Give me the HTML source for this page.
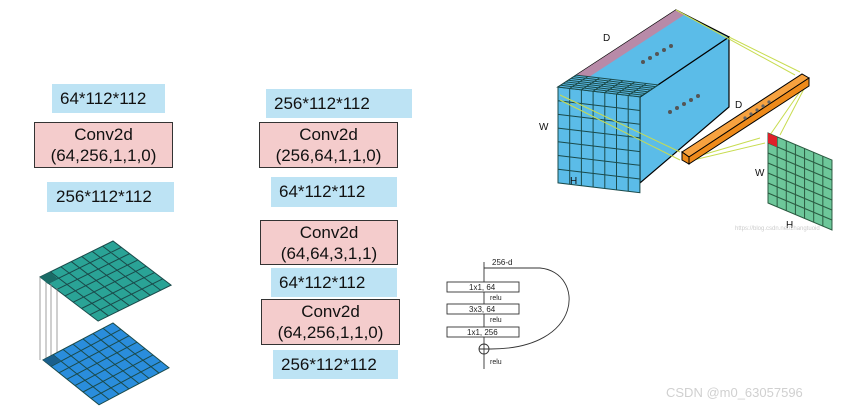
<!DOCTYPE html>
<html><head><meta charset="utf-8"><style>
body{margin:0;background:#fff;}
.b{position:absolute;background:#bde3f4;font:17px "Liberation Sans",sans-serif;color:#111;box-sizing:border-box;padding-left:8px;display:flex;align-items:center;}
.p{position:absolute;background:#f4cccc;border:1.5px solid #333;font:17px "Liberation Sans",sans-serif;color:#111;box-sizing:border-box;text-align:center;line-height:21px;display:flex;flex-direction:column;justify-content:center;}
</style></head><body>
<div style="position:relative;width:841px;height:409px;overflow:hidden">
<div class="b" style="left:52px;top:84px;width:113px;height:29px;padding-left:8px">64*112*112</div>
<div class="p" style="left:34px;top:122px;width:139px;height:46px"><div>Conv2d</div><div>(64,256,1,1,0)</div></div>
<div class="b" style="left:47px;top:182px;width:127px;height:30px;padding-left:9px">256*112*112</div>

<div class="b" style="left:266px;top:89px;width:146px;height:29px">256*112*112</div>
<div class="p" style="left:259px;top:122px;width:139px;height:46px"><div>Conv2d</div><div>(256,64,1,1,0)</div></div>
<div class="b" style="left:271px;top:177px;width:126px;height:30px">64*112*112</div>
<div class="p" style="left:260px;top:220px;width:138px;height:45px"><div>Conv2d</div><div>(64,64,3,1,1)</div></div>
<div class="b" style="left:271px;top:268px;width:126px;height:29px">64*112*112</div>
<div class="p" style="left:261px;top:299px;width:139px;height:46px"><div>Conv2d</div><div>(64,256,1,1,0)</div></div>
<div class="b" style="left:273px;top:350px;width:125px;height:29px">256*112*112</div>

<svg width="841" height="409" style="position:absolute;left:0;top:0" font-family="Liberation Sans,sans-serif">
<defs>
<g id="g7"><rect x="0" y="0" width="7" height="7" stroke="#1a4a4a" stroke-width="1" vector-effect="non-scaling-stroke"/>
<path d="M1 0V7M2 0V7M3 0V7M4 0V7M5 0V7M6 0V7M0 1H7M0 2H7M0 3H7M0 4H7M0 5H7M0 6H7" stroke="#1a4a4a" stroke-width="1" fill="none" vector-effect="non-scaling-stroke"/></g>
</defs>
<!-- planes -->
<g transform="matrix(10.43,-5.14,8.3,6.3,40,277)"><use href="#g7" fill="#2aa396"/></g>
<g fill="none" stroke="#888" stroke-width="0.8"><path d="M40 277V360M46 280V363M51 284V366M57 288V370"/></g>
<g transform="matrix(10,-5.29,8,6.4,43,360)"><use href="#g7" fill="#2a8ddc"/></g>
<polygon points="40,277 50,272 58,279 48,284" fill="#1a6b66"/>
<polygon points="43,360 53,355 61,361 51,366" fill="#1a5f8c"/>

<!-- cube -->
<polygon points="640,97 729,37 729,107 640,183" fill="#5bbce8" stroke="#000" stroke-width="1.2"/>
<polygon points="558,87 676,10 729,37 640,97" fill="#5bbce8" stroke="#000" stroke-width="1.2"/>
<polygon points="558,87 676,10 684,15 566,92" fill="#b88aa8"/>
<g transform="matrix(11.7,1.4,0,13.7,558,87)"><use href="#g7" fill="#5bbce8"/></g>
<g transform="matrix(2.6,-1.7,11.7,1.4,558,87)"><use href="#g7" fill="#5bbce8"/></g>
<g fill="#555"><circle cx="643" cy="62" r="2"/><circle cx="650" cy="58" r="2"/><circle cx="657" cy="54" r="2"/><circle cx="664" cy="50" r="2"/><circle cx="671" cy="46" r="2"/>
<circle cx="670" cy="112" r="2"/><circle cx="677" cy="108" r="2"/><circle cx="684" cy="104" r="2"/><circle cx="691" cy="100" r="2"/><circle cx="698" cy="96" r="2"/></g>
<g stroke="#c8dc50" stroke-width="1" fill="none">
<path d="M676 10L795 75M729 37L800 72M560 95L680 152M560 100L680 160M685 160L760 138M685 162L765 143M808 80L770 135M806 85L780 135"/></g>
<polygon points="682,152 802,74 809,78 689,157" fill="#f7a240" stroke="#000" stroke-width="1"/>
<polygon points="682,152 689,157 689,164 682,160" fill="#ee8a1a" stroke="#000" stroke-width="1"/>
<polygon points="689,157 809,78 809,86 689,164" fill="#ee8a1a" stroke="#000" stroke-width="1"/>
<g fill="#666"><circle cx="745" cy="118" r="1.6"/><circle cx="751" cy="114" r="1.6"/><circle cx="757" cy="110" r="1.6"/><circle cx="763" cy="106" r="1.6"/><circle cx="769" cy="102" r="1.6"/></g>
<g transform="matrix(9.14,3.86,0,10,768,133)"><rect width="7" height="7" fill="#6dc79a" stroke="#2a5a40" stroke-width="1" vector-effect="non-scaling-stroke"/><path d="M1 0V7M2 0V7M3 0V7M4 0V7M5 0V7M6 0V7M0 1H7M0 2H7M0 3H7M0 4H7M0 5H7M0 6H7" stroke="#2a5a40" stroke-width="1" vector-effect="non-scaling-stroke"/></g>
<polygon points="768,133 777,137 777,147 768,143" fill="#e0202a"/>
<g font-size="10" fill="#111"><text x="603" y="41">D</text><text x="539" y="130">W</text><text x="570" y="184">H</text><text x="735" y="108">D</text><text x="755" y="176">W</text><text x="786" y="228">H</text></g>
<text x="735" y="230" font-size="6" fill="#ccc">https://blog.csdn.net/zhangtuoid</text>

<!-- resnet block -->
<g stroke="#333" fill="none" stroke-width="0.9">
<path d="M484 262V282M484 292V304M484 314V327M484 337V344M484 354V369"/>
<path d="M484 268H540C585 272 585 350 489 349"/>
<rect x="447" y="282" width="72" height="10"/><rect x="447" y="304" width="72" height="10"/><rect x="447" y="327" width="72" height="10"/>
<circle cx="484" cy="349" r="5"/><path d="M479 349H489M484 344V354"/>
</g>
<g font-size="8" fill="#222"><text x="492" y="265">256-d</text><text x="469" y="290">1x1, 64</text><text x="469" y="312">3x3, 64</text><text x="467" y="335">1x1, 256</text>
<text x="490" y="300" font-size="7">relu</text><text x="490" y="322" font-size="7">relu</text><text x="490" y="364" font-size="7">relu</text></g>
<text x="666" y="397" font-size="13" fill="#d0d0d0">CSDN @m0_63057596</text>
</svg>
</div>
</body></html>
